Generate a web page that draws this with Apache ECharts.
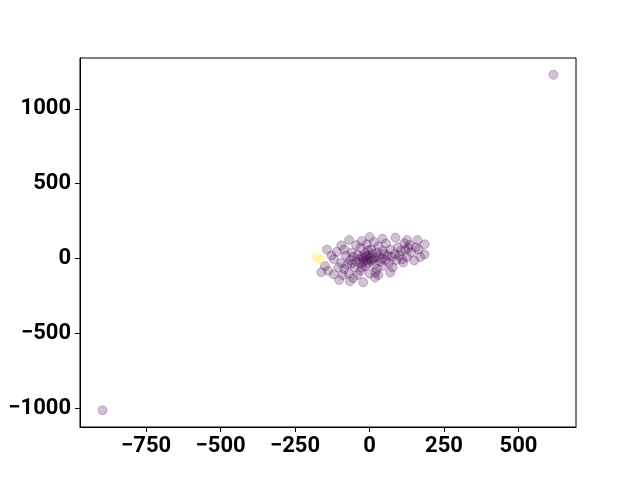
<!DOCTYPE html>
<html>
<head>
<meta charset="utf-8">
<script src="https://cdn.jsdelivr.net/npm/echarts@6/dist/echarts.min.js"></script>
<style>html,body{margin:0;padding:0;background:#fff}#c{width:640px;height:480px}</style>
</head>
<body>
<div id="c"></div>
<script>
const purplePoints = [
[-143,60],[-162,-91],[-69,124],[0,144],[43,133],[87,139],[126,124],[161,124],[185,95],[185,27],
[150,-13],[113,-27],[69,-93],[18,-128],[-21,-159],[-66,-153],[-102,-144],[-120,-106],[-139,-82],[-120,-4],
[-95,88],[-26,117],[117,102],[78,-60],[-150,-50],[-128,20],[-110,45],[-85,60],[-60,40],[-45,90],
[-30,70],[-10,95],[15,110],[30,80],[55,100],[70,60],[95,75],[105,50],[130,70],[140,40],
[165,60],[170,10],[125,10],[100,20],[90,-10],[60,20],[45,50],[25,40],[10,30],[-5,20],
[-15,35],[-25,10],[-35,-5],[-45,-20],[-55,10],[-65,-10],[-75,-40],[-85,-70],[-95,-30],[-105,-60],
[-80,20],[-70,-100],[-50,-60],[-40,-110],[-30,-80],[-15,-50],[-5,-30],[5,-15],[15,-40],[25,-70],
[35,-20],[45,-50],[55,-10],[65,-30],[75,10],[85,30],[40,0],[20,5],[0,0],[-10,-10],
[-20,-20],[-30,-30],[-20,5],[-10,15],[10,-5],[30,15],[-40,25],[-60,-35],[0,-100],[30,-110],
[-55,-130],[50,30],[110,-5],[155,75],[135,90],[120,60],[-5,55],[-25,-60],[5,60],[-90,-110],
[20,-95],[617,1227],[-896,-1013]
];
const yellowPoints = [[-178,7],[-164,-7]];
const xTicks = [-750,-500,-250,0,250,500];
const yTicks = [-1000,-500,0,500,1000];
const xRange = [-972,693];
const yRange = [-1125,1339];

const fmt = v => String(v).replace('-', '\u2212');
const labelStyle = {color:'#000', fontFamily:'Roboto', fontWeight:'bold', fontSize:22};
const chart = echarts.init(document.getElementById('c'));
chart.setOption({
  animation:false,
  grid:{left:80,right:64,top:58,bottom:53,show:true,borderColor:'#000',borderWidth:1,backgroundColor:'transparent'},
  xAxis:{type:'value',min:xRange[0],max:xRange[1],splitLine:{show:false},
    axisLine:{show:true,onZero:false,lineStyle:{color:'#000',width:1}},
    axisTick:{show:true,length:5,lineStyle:{color:'#000'},customValues:xTicks},
    axisLabel:Object.assign({margin:8,customValues:xTicks,formatter:fmt},labelStyle)},
  yAxis:{type:'value',min:yRange[0],max:yRange[1],splitLine:{show:false},
    axisLine:{show:true,onZero:false,lineStyle:{color:'#000',width:1}},
    axisTick:{show:true,length:5,lineStyle:{color:'#000'},customValues:yTicks},
    axisLabel:Object.assign({margin:9,customValues:yTicks,formatter:fmt},labelStyle)},
  series:[
    {type:'scatter',data:purplePoints,symbolSize:9,
     itemStyle:{color:'rgba(68,1,84,0.3)',borderColor:'rgba(68,1,84,0.3)',borderWidth:1}},
    {type:'scatter',data:yellowPoints,symbolSize:9,
     itemStyle:{color:'rgba(253,231,37,0.3)',borderColor:'rgba(253,231,37,0.3)',borderWidth:1}}
  ]
});
</script>
</body>
</html>
